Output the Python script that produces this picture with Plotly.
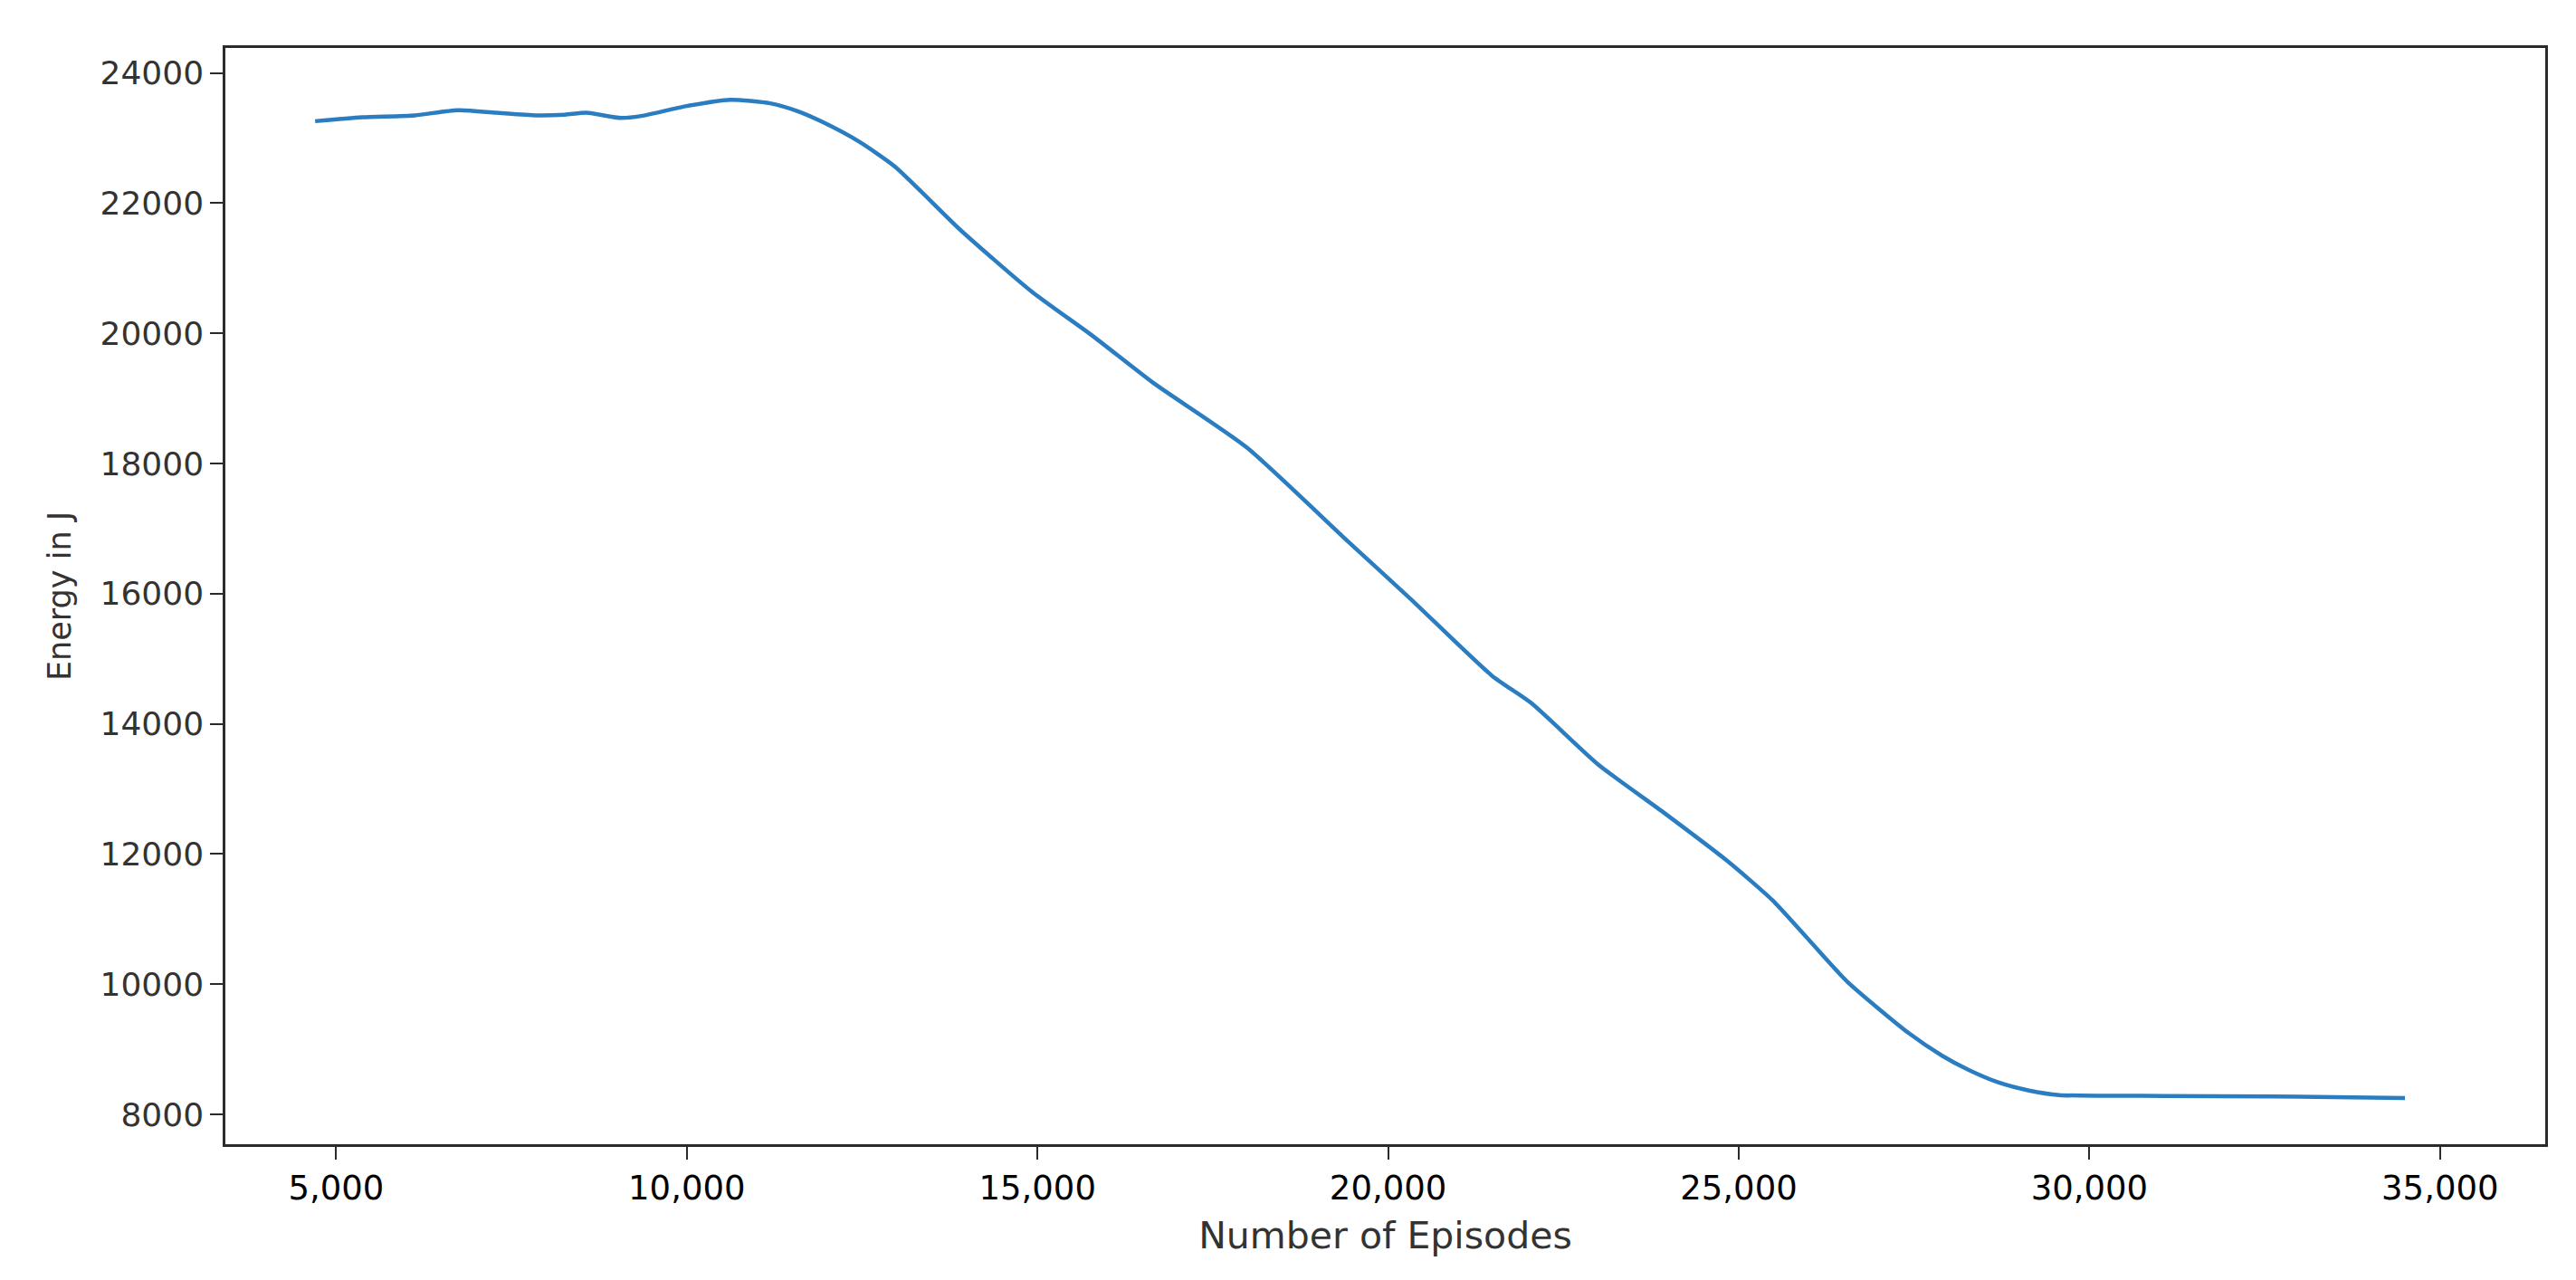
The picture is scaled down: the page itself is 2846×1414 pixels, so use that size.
import plotly.graph_objects as go

# Energy per training run
episodes = [4700, 5370, 6120, 6730, 7280, 7850, 8260, 8570, 9060, 9350,
            9980, 10620, 11190, 11590, 11930, 12450, 12970, 13890, 14920, 15800,
            16650, 17980, 19410, 20320, 21480, 22040, 22990, 23900, 24840, 25480,
            26000, 26550, 27420, 27900, 28280, 28700, 29140, 29570, 31070, 32630,
            34500]
energy = [23260, 23320, 23350, 23430, 23390, 23350, 23360, 23390, 23310, 23340,
          23490, 23590, 23535, 23410, 23250, 22950, 22560, 21600, 20640, 19950,
          19240, 18250, 16820, 15920, 14740, 14320, 13380, 12660, 11890, 11290,
          10680, 10035, 9250, 8900, 8680, 8490, 8365, 8296, 8282, 8274,
          8250]

x_ticks = [5000, 10000, 15000, 20000, 25000, 30000, 35000]
y_ticks = [8000, 10000, 12000, 14000, 16000, 18000, 20000, 22000, 24000]

fig = go.Figure()

fig.add_trace(
    go.Scatter(
        x=episodes,
        y=energy,
        mode='lines',
        line=dict(color='#2a7dc0', width=4.5, shape='spline', smoothing=0.6),
        showlegend=False
    )
)

axis_common = dict(
    showgrid=False,
    zeroline=False,
    showline=True,
    mirror=True,
    linecolor='#2b2b2b',
    linewidth=2.5,
    ticks='outside',
    ticklen=14,
    tickwidth=2,
    tickcolor='#2b2b2b',
)

fig.update_xaxes(
    range=[3420, 36500],
    tickvals=x_ticks,
    tickformat=',d',
    tickfont=dict(family='DejaVu Sans', size=37, color='#000000'),
    title=dict(text='Number of Episodes', standoff=18,
               font=dict(family='DejaVu Sans', size=41, color='#333333')),
    **axis_common
)

fig.update_yaxes(
    range=[7540, 24385],
    tickvals=y_ticks,
    tickformat='d',
    tickfont=dict(family='DejaVu Sans', size=36, color='#333333'),
    title=dict(text='Energy in J', standoff=22,
               font=dict(family='DejaVu Sans', size=35, color='#333333')),
    **axis_common
)

fig.update_layout(
    width=2846,
    height=1414,
    margin=dict(l=241, r=42, t=45, b=158, autoexpand=False),
    paper_bgcolor='white',
    plot_bgcolor='white',
)

fig.write_html("out.html")
